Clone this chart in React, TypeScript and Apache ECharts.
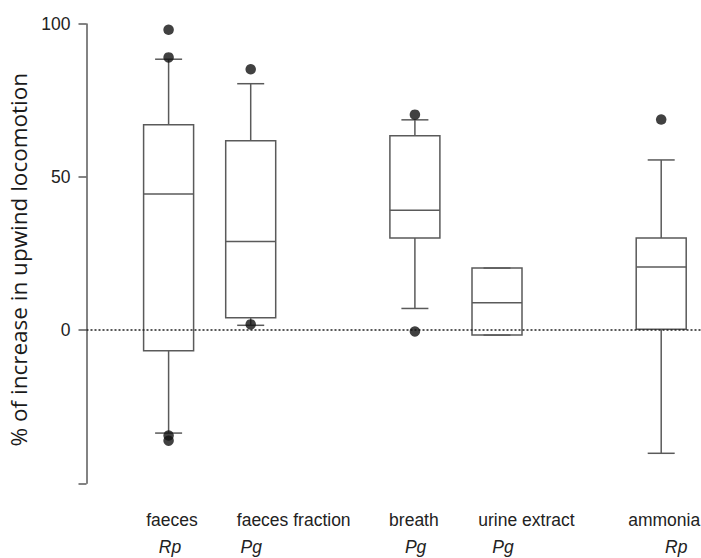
import React, { useEffect, useRef } from "react";
import * as echarts from "echarts";

// Categories (stimulus) and species, with their positions on the x scale
const categories = ["faeces", "faeces fraction", "breath", "urine extract", "ammonia"];
const species = ["Rp", "Pg", "Pg", "Pg", "Rp"];
const positions = [1, 2, 4, 5, 7];

// Box statistics (% increase)
const boxMin = [-33.6, 1.6, 7.1, -1.6, -40.2];
const boxQ1 = [-6.7, 4.1, 30.1, -1.6, 0.3];
const boxMedian = [44.5, 29.0, 39.2, 9.0, 20.6];
const boxQ3 = [67.1, 61.9, 63.5, 20.3, 30.1];
const boxMax = [88.5, 80.5, 68.7, 20.3, 55.6];

// Outliers: [category index, value]
const outlierCategory = [0, 0, 0, 0, 1, 1, 2, 2, 4];
const outlierValue = [98.1, 89.1, -34.4, -36.1, 85.2, 1.9, 70.4, -0.4, 68.8];

// Y axis tick labels
const yTicks = [-50, 0, 50, 100];
const yTickLabels = ["", "0", "50", "100"];

const LABEL_FONT = "Liberation Sans, Arial, sans-serif";
const TEXT = "#222222";
const LINE = "#5a5a5a";
const BOX_W = 50;
const CAP_W = 27;

// horizontal nudges (px) of the category labels relative to their box centre
const nameShift = [3.4, 43, -1, 29.4, 3];
const speciesShift = [1.4, 0.5, 0.7, 6, 15];
const NAME_ROW_Y = 520;
const SPECIES_ROW_Y = 547;

export default function App() {
  const ref = useRef<HTMLDivElement>(null);

  useEffect(() => {
    if (!ref.current) return;
    const chart = echarts.init(ref.current, null, { renderer: "svg" });

    const boxData = positions.map((p, i) => [p, boxMin[i], boxQ1[i], boxMedian[i], boxQ3[i], boxMax[i]]);
    const outlierData = outlierCategory.map((c, i) => [positions[c], outlierValue[i]]);

    const stroke = { stroke: LINE, lineWidth: 1.5, fill: "none" };

    const renderItem = (_params: any, api: any) => {
      const x = api.value(0);
      const pMin = api.coord([x, api.value(1)]);
      const pQ1 = api.coord([x, api.value(2)]);
      const pMed = api.coord([x, api.value(3)]);
      const pQ3 = api.coord([x, api.value(4)]);
      const pMax = api.coord([x, api.value(5)]);
      const cx = pMed[0];
      const hb = BOX_W / 2;
      const hc = CAP_W / 2;
      return {
        type: "group",
        children: [
          { type: "line", shape: { x1: cx, y1: pQ3[1], x2: cx, y2: pMax[1] }, style: stroke },
          { type: "line", shape: { x1: cx - hc, y1: pMax[1], x2: cx + hc, y2: pMax[1] }, style: stroke },
          { type: "line", shape: { x1: cx, y1: pQ1[1], x2: cx, y2: pMin[1] }, style: stroke },
          { type: "line", shape: { x1: cx - hc, y1: pMin[1], x2: cx + hc, y2: pMin[1] }, style: stroke },
          {
            type: "rect",
            shape: { x: cx - hb, y: pQ3[1], width: BOX_W, height: pQ1[1] - pQ3[1] },
            style: stroke,
          },
          { type: "line", shape: { x1: cx - hb, y1: pMed[1], x2: cx + hb, y2: pMed[1] }, style: stroke },
        ],
      };
    };

    chart.setOption({
      animation: false,
      backgroundColor: "#ffffff",
      grid: { left: 86.5, top: 24, width: 615.75, bottom: 74.7, outerBoundsMode: "none", containLabel: false },
      xAxis: {
        type: "value",
        min: 0,
        max: 7.5,
        axisLine: { show: false },
        axisTick: { show: false },
        splitLine: { show: false },
        axisLabel: { show: false },
      },
      yAxis: {
        type: "value",
        min: -50,
        max: 100,
        interval: 50,
        name: "% of increase in upwind locomotion",
        nameLocation: "middle",
        nameRotate: 90,
        nameGap: 47,
        nameTextStyle: {
          fontFamily: "Open Sans, sans-serif",
          fontSize: 22.5,
          color: "#1a1a1a",
          padding: [0, 12, 0, 0],
        },
        axisLine: { show: true, lineStyle: { color: LINE, width: 1.5 } },
        axisTick: { show: true, length: 8, lineStyle: { color: LINE, width: 1.5 } },
        splitLine: { show: false },
        axisLabel: {
          margin: 16,
          fontFamily: LABEL_FONT,
          fontSize: 17.5,
          color: TEXT,
          formatter: (v: number) => {
            const i = yTicks.indexOf(v);
            return i >= 0 ? yTickLabels[i] : "";
          },
        },
      },
      series: [
        {
          type: "custom",
          data: boxData,
          encode: { x: 0, y: [1, 2, 3, 4, 5] },
          renderItem,
          silent: true,
          z: 2,
        },
        {
          type: "scatter",
          data: outlierData,
          symbol: "circle",
          symbolSize: 10.5,
          itemStyle: { color: "#111111" },
          markLine: {
            silent: true,
            symbol: "none",
            label: { show: false },
            lineStyle: { color: "#222", width: 1.6, type: [2, 2] },
            data: [{ yAxis: 0 }],
          },
          z: 5,
        },
      ],
    });

    // category labels, placed from the x axis scale
    const graphics: any[] = [];
    categories.forEach((name, i) => {
      const px = chart.convertToPixel({ xAxisIndex: 0 }, positions[i]) as number;
      graphics.push({
        type: "text",
        x: px + nameShift[i],
        y: NAME_ROW_Y,
        silent: true,
        style: {
          text: name,
          fontFamily: LABEL_FONT,
          fontSize: 17.5,
          fill: TEXT,
          align: "center",
          verticalAlign: "middle",
        },
      });
      graphics.push({
        type: "text",
        x: px + speciesShift[i],
        y: SPECIES_ROW_Y,
        silent: true,
        style: {
          text: species[i],
          fontFamily: LABEL_FONT,
          fontSize: 17.5,
          fontStyle: "italic",
          fill: TEXT,
          align: "center",
          verticalAlign: "middle",
        },
      });
    });
    chart.setOption({ graphic: graphics });

    return () => chart.dispose();
  }, []);

  return (
    <div
      ref={ref}
      style={{ position: "absolute", left: 0, top: 0, width: 701, height: 558 }}
    />
  );
}
